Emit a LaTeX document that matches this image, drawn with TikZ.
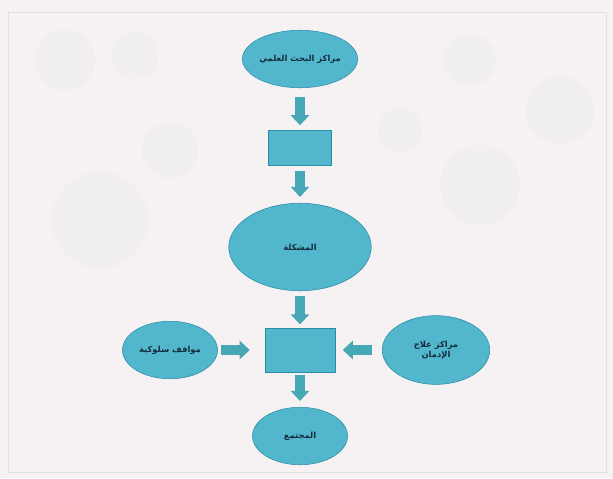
\documentclass[tikz,border=0pt]{standalone}
\usepackage{fontspec}
\usepackage{tikz}
\usetikzlibrary{arrows.meta, shapes.geometric}
\newfontfamily\arabicfont[Script=Arabic]{DejaVu Sans}
\TeXXeTstate=1
\definecolor{tealfill}{RGB}{82,182,204}
\definecolor{tealedge}{RGB}{40,140,165}
\definecolor{arrowteal}{RGB}{70,168,180}
\definecolor{pagebg}{RGB}{246,241,243}
\definecolor{textdark}{RGB}{20,45,60}
\definecolor{spotgray}{RGB}{240,238,240}

\begin{document}
\begin{tikzpicture}[
    x=0.04cm, y=-0.04cm,
    oval/.style={draw=tealedge, ellipse, line width=0.6pt, fill=tealfill, inner sep=0pt,
        font=\arabicfont\bfseries\fontsize{9.5}{11.5}\selectfont, text=textdark, align=center},
    box/.style={draw=tealedge, rectangle, line width=0.6pt, fill=tealfill, inner sep=0pt},
    flow/.style={-{Triangle[length=0.4cm, width=0.72cm]}, line width=0.4cm, draw=arrowteal},
]
    % page and faint background pattern
    \fill[pagebg] (0,0) rectangle (613,478);
    \draw[gray!25, line width=0.8pt] (8,12) rectangle (606,472);
    \foreach \cx/\cy/\r in {65/60/30, 135/55/24, 100/220/48, 170/150/28, 480/185/40, 560/110/34, 470/60/26, 400/130/22}
        \fill[spotgray] (\cx,\cy) circle (\r);

    % nodes
    \node[oval, minimum width=4.1cm, minimum height=2.3cm] (research) at (300,59) {\beginR مراكز البحث العلمي\endR};
    \node[box, minimum width=2.5cm, minimum height=1.4cm] (step1) at (300,148) {};
    \node[oval, minimum width=5.7cm, minimum height=3.5cm] (problem) at (300,247) {\beginR المشكلة\endR};
    \node[box, minimum width=2.8cm, minimum height=1.75cm] (step2) at (300,350) {};
    \node[oval, minimum width=3.8cm, minimum height=2.3cm] (left) at (170,350) {\beginR مواقف سلوكية\endR};
    \node[oval, minimum width=4.3cm, minimum height=2.75cm] (right) at (436,350) {\beginR مراكز علاج\endR\\\beginR الإدمان\endR};
    \node[oval, minimum width=3.8cm, minimum height=2.3cm] (society) at (300,436) {\beginR المجتمع\endR};

    % connectors
    \draw[flow, shorten <=0.36cm, shorten >=0.2cm] (research) -- (step1);
    \draw[flow, shorten <=0.2cm, shorten >=0.24cm] (step1) -- (problem);
    \draw[flow, shorten <=0.2cm, shorten >=0.14cm] (problem) -- (step2);
    \draw[flow, shorten <=0.14cm, shorten >=0.6cm] (left) -- (step2);
    \draw[flow, shorten <=0.4cm, shorten >=0.3cm] (right) -- (step2);
    \draw[flow, shorten <=0.12cm, shorten >=0.24cm] (step2) -- (society);
\end{tikzpicture}
\end{document}
